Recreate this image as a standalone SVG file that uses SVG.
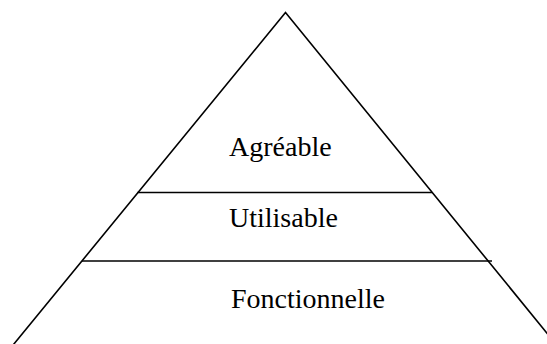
<svg xmlns="http://www.w3.org/2000/svg" width="547" height="344" viewBox="0 0 547 344">
<style>
.edge{stroke:#000;stroke-width:1.6;fill:none}
.lvl{stroke:#000;stroke-width:1.6;fill:none}
.t{font-family:"Liberation Serif","Times New Roman",serif;font-size:28px;fill:#000}
</style>
<rect width="547" height="344" fill="#fff"/>
<g id="connectors">
<path class="edge" d="M13.5,344.5 L285.5,12.5 L555,343"/>
<line class="lvl" x1="137.5" y1="192.5" x2="432" y2="192.5"/>
<line class="lvl" x1="82" y1="261" x2="492" y2="261"/>
</g>
<g id="agreable"><text class="t" x="229" y="156">Agréable</text></g>
<g id="utilisable"><text class="t" x="229" y="227">Utilisable</text></g>
<g id="fonctionnelle"><text class="t" x="231" y="308">Fonctionnelle</text></g>
</svg>
